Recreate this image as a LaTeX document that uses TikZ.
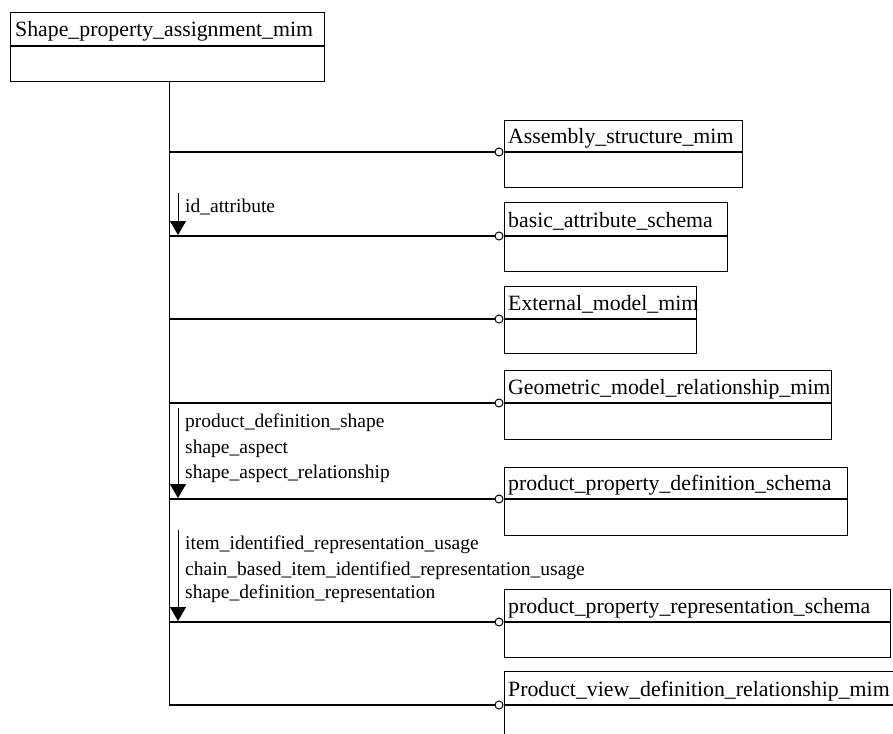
\documentclass[tikz,border=0pt]{standalone}
\usepackage{fontspec}
\setmainfont{Liberation Serif}
\usetikzlibrary{arrows.meta}
\begin{document}
\begin{tikzpicture}[x=1pt,y=-1pt,
  ent/.style={draw,line width=1.3pt,rectangle,inner sep=0pt,anchor=north west},
  ttl/.style={anchor=base west,inner sep=0pt,font=\fontsize{21.8}{25}\selectfont},
  lbl/.style={anchor=base west,inner sep=0pt,font=\fontsize{19.5}{24}\selectfont},
  conn/.style={line width=1.1pt},
  ring/.style={circle,draw,fill=white,line width=1pt,minimum size=8pt,inner sep=0pt},
  dep/.style={line width=0.8pt,-{Triangle[width=16pt,length=14pt]}}]
\useasboundingbox (0,0) rectangle (893,733);
\clip (0,0) rectangle (893,733);

% top entity
\node[ent,minimum width=314pt,minimum height=69pt] (top) at (10,12) {};
\draw[line width=1.3pt] (10,46) -- (324,46);
\node[ttl] (ttop) at (15,37) {Shape\_property\_assignment\_mim};

% schemas
\node[ent,minimum width=238pt,minimum height=67pt] (b1) at (504,120) {};
\draw[line width=1.1pt] (504,152) -- (742,152);
\node[ttl] (t1) at (508,143) {Assembly\_structure\_mim};

\node[ent,minimum width=223pt,minimum height=69pt] (b2) at (504,202) {};
\draw[line width=1.1pt] (504,236) -- (727,236);
\node[ttl] (t2) at (508,227) {basic\_attribute\_schema};

\node[ent,minimum width=192pt,minimum height=67pt] (b3) at (504,286) {};
\draw[line width=1.1pt] (504,319) -- (696,319);
\node[ttl] (t3) at (508,310) {External\_model\_mim};

\node[ent,minimum width=327pt,minimum height=69pt] (b4) at (504,370) {};
\draw[line width=1.1pt] (504,403) -- (831,403);
\node[ttl] (t4) at (508,394) {Geometric\_model\_relationship\_mim};

\node[ent,minimum width=343pt,minimum height=68pt] (b5) at (504,467) {};
\draw[line width=1.1pt] (504,499) -- (847,499);
\node[ttl] (t5) at (508,490) {product\_property\_definition\_schema};

\node[ent,minimum width=386pt,minimum height=68pt] (b6) at (504,589) {};
\draw[line width=1.1pt] (504,622) -- (890,622);
\node[ttl] (t6) at (508,613) {product\_property\_representation\_schema};

\node[ent,minimum width=396pt,minimum height=70pt] (b7) at (504,671) {};
\draw[line width=1.1pt] (504,705) -- (900,705);
\node[ttl] (t7) at (508,696) {Product\_view\_definition\_relationship\_mim};

% trunk and connectors
\coordinate (tr) at (169,81);
\coordinate (j1) at (169,152);
\coordinate (j2) at (169,236);
\coordinate (j3) at (169,319);
\coordinate (j4) at (169,403);
\coordinate (j5) at (169,499);
\coordinate (j6) at (169,622);
\coordinate (j7) at (169,705);
\draw[line width=1pt] (tr) -- (j7);

\node[ring] (r1) at (499,152) {};
\node[ring] (r2) at (499,236) {};
\node[ring] (r3) at (499,319) {};
\node[ring] (r4) at (499,403) {};
\node[ring] (r5) at (499,499) {};
\node[ring] (r6) at (499,622) {};
\node[ring] (r7) at (499,705) {};
\draw[conn] (j1) -- (r1);
\draw[conn] (j2) -- (r2);
\draw[conn] (j3) -- (r3);
\draw[conn] (j4) -- (r4);
\draw[conn] (j5) -- (r5);
\draw[conn] (j6) -- (r6);
\draw[conn] (j7) -- (r7);

% dependency arrows
\coordinate (a1s) at (178,193);
\coordinate (a1e) at (178,235);
\draw[dep] (a1s) -- (a1e);
\node[lbl] (l1) at (185,212) {id\_attribute};

\coordinate (a2s) at (178,408);
\coordinate (a2e) at (178,498);
\draw[dep] (a2s) -- (a2e);
\node[lbl] (l2a) at (185,427) {product\_definition\_shape};
\node[lbl] (l2b) at (185,453) {shape\_aspect};
\node[lbl] (l2c) at (185,478) {shape\_aspect\_relationship};

\coordinate (a3s) at (178,530);
\coordinate (a3e) at (178,621);
\draw[dep] (a3s) -- (a3e);
\node[lbl] (l3a) at (185,549) {item\_identified\_representation\_usage};
\node[lbl] (l3b) at (185,575) {chain\_based\_item\_identified\_representation\_usage};
\node[lbl] (l3c) at (185,598) {shape\_definition\_representation};
\end{tikzpicture}
\end{document}
